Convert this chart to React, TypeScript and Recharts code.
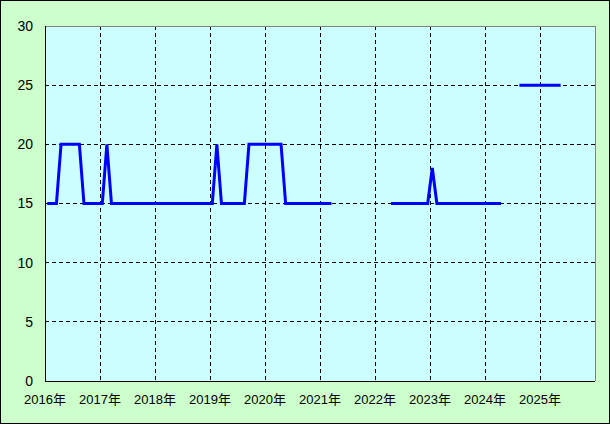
import {
  LineChart,
  Line,
  XAxis,
  YAxis,
  CartesianGrid,
  ReferenceLine,
} from "recharts";

// monthly values from Jan 2016, null = no data
const values2016 = [15, 15, 15, 20, 20, 20, 20, 20, 15, 15, 15, 15];
const values2017 = [15, 20, 15, 15, 15, 15, 15, 15, 15, 15, 15, 15];
const values2018 = [15, 15, 15, 15, 15, 15, 15, 15, 15, 15, 15, 15];
const values2019 = [15, 20, 15, 15, 15, 15, 15, 15, 20, 20, 20, 20];
const values2020 = [20, 20, 20, 20, 15, 15, 15, 15, 15, 15, 15, 15];
const values2021 = [15, 15, 15, null, null, null, null, null, null, null, null, null];
const values2022 = [null, null, null, 15, 15, 15, 15, 15, 15, 15, 15, 15];
const values2023 = [18, 15, 15, 15, 15, 15, 15, 15, 15, 15, 15, 15];
const values2024 = [15, 15, 15, 15, null, null, null, 25, 25, 25, 25, 25];
const values2025 = [25, 25, 25, 25, 25, null, null, null, null, null, null, null];

const yearLabels = [
  "2016年",
  "2017年",
  "2018年",
  "2019年",
  "2020年",
  "2021年",
  "2022年",
  "2023年",
  "2024年",
  "2025年",
];
const yTicks = [0, 5, 10, 15, 20, 25, 30];

const monthly = [
  ...values2016,
  ...values2017,
  ...values2018,
  ...values2019,
  ...values2020,
  ...values2021,
  ...values2022,
  ...values2023,
  ...values2024,
  ...values2025,
];

// each value sits in the middle of its month
const data = monthly.map((v, i) => ({ x: i + 0.5, v }));
const xTicks = yearLabels.map((_, i) => i * 12);

const font = "'Liberation Sans', Arial, 'Noto Sans CJK JP', sans-serif";

export default function App() {
  return (
    <div
      style={{
        position: "absolute",
        left: 0,
        top: 0,
        width: 610,
        height: 424,
        background: "#ccffcc",
      }}
    >
      <LineChart
        width={610}
        height={424}
        data={data}
        margin={{ top: 26, right: 15, left: 0, bottom: 0 }}
      >
        <CartesianGrid
          stroke="#000"
          strokeDasharray="4 3"
          fill="#ccffff"
          fillOpacity={1}
          shapeRendering="crispEdges"
        />
        <XAxis
          dataKey="x"
          type="number"
          domain={[0, 120]}
          ticks={xTicks}
          tickFormatter={(t: number) => yearLabels[t / 12]}
          height={43}
          tickLine={false}
          axisLine={{ stroke: "#000", shapeRendering: "crispEdges" }}
          tickMargin={8}
          tick={{ fill: "#000", fontSize: 13, fontFamily: font }}
        />
        <YAxis
          type="number"
          domain={[0, 30]}
          ticks={yTicks}
          width={45}
          tickLine={false}
          axisLine={{ stroke: "#000", shapeRendering: "crispEdges" }}
          tickMargin={6}
          tick={{ fill: "#000", fontSize: 14, fontFamily: font }}
        />
        <ReferenceLine y={30} stroke="#808080" strokeWidth={1} shapeRendering="crispEdges" />
        <ReferenceLine x={120} stroke="#808080" strokeWidth={1} shapeRendering="crispEdges" />
        <Line
          dataKey="v"
          stroke="#0000ff"
          strokeWidth={3}
          dot={false}
          connectNulls={false}
          isAnimationActive={false}
        />
      </LineChart>
      <div
        style={{
          position: "absolute",
          left: 0,
          top: 0,
          width: 610,
          height: 424,
          boxSizing: "border-box",
          border: "1px solid #000",
          pointerEvents: "none",
        }}
      />
    </div>
  );
}
